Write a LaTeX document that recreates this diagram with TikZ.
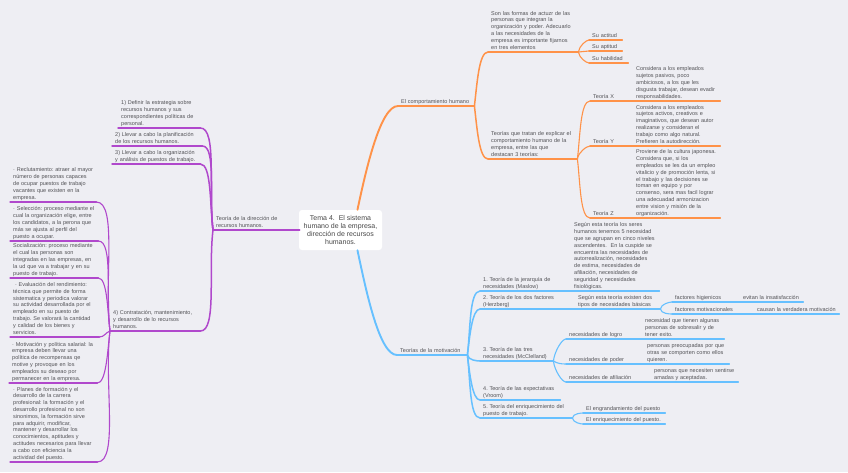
\documentclass[tikz,border=0pt]{standalone}
\usepackage{fontspec}
\setmainfont{Liberation Sans}
\usepackage{tikz}
\usetikzlibrary{calc}
\frenchspacing
\definecolor{mmPurple}{RGB}{176,72,204}
\definecolor{mmOrange}{RGB}{255,146,72}
\definecolor{mmBlue}{RGB}{102,192,255}
\definecolor{mmBg}{RGB}{238,238,243}
\definecolor{mmGray}{RGB}{82,82,86}
\newcommand{\mmfont}{\fontsize{5.5}{6.8}\selectfont}
\tikzset{
  tema/.style={
    rectangle, rounded corners=3pt,
    fill=white, draw=none,
    minimum width=83pt, minimum height=40pt,
    align=center, font=\fontsize{7}{8.3}\selectfont,
    text=black!72
  },
  idea/.style={
    anchor=south west, inner xsep=0pt, inner ysep=0.6pt,
    text width=#1, align=left,
    font=\mmfont, text=mmGray,
    execute at begin node={\leftskip=3pt\rightskip=0pt plus 1fil minus 40pt},
    execute at end node={\strut}
  },
  lvone/.style={draw=#1, line width=1.9pt, line cap=round},
  lvtwo/.style={draw=#1, line width=1.5pt, line cap=round},
  lvthree/.style={draw=#1, line width=1.1pt, line cap=round},
  lup/.style={out=97, in=0, in looseness=0.42},
  ldown/.style={out=-97, in=0, in looseness=0.42},
  rup/.style={out=83, in=180, in looseness=0.42},
  rdown/.style={out=-83, in=180, in looseness=0.42},
}
\begin{document}
\begin{tikzpicture}[x=1pt,y=-1pt]
  \fill[mmBg] (0,0) rectangle (848,472);
  \useasboundingbox (0,0) rectangle (848,472);

  % Left — dirección de recursos humanos
  \node[idea=86] (dir) at (213,230) {Teoría de la dirección de\\recursos humanos.};
  \node[idea=82] (d1) at (118,128) {1) Definir la estrategia sobre\\recursos humanos y sus\\correspondientes políticas de\\personal.};
  \node[idea=90] (d2) at (112,146) {2) Llevar a cabo la planificación\\de los recursos humanos.};
  \node[idea=88] (d3) at (112,164) {3) Llevar a cabo la organización\\y análisis de puestos de trabajo.};
  \node[idea=90] (d4) at (110,331) {4) Contratación, mantenimiento,\\y desarrollo de lo recursos\\humanos.};
  \node[idea=86] (e1) at (10,202) {· Reclutamiento: atraer al mayor\\número de personas capaces\\de ocupar puestos de trabajo\\vacantes que existen en la\\empresa.};
  \node[idea=88] (e2) at (10,241) {· Selección: proceso mediante el\\cual la organización elige, entre\\los candidatos, a la perona que\\más se ajusta al perfil del\\puesto a ocupar.};
  \node[idea=88] (e3) at (10,278) {Socialización: proceso mediante\\el cual las personas son\\integradas en las empresas, en\\la ud que va a trabajar y en su\\puesto de trabajo.};
  \node[idea=89] (e4) at (10,337) {\ · Evaluación del rendimiento:\\técnica que permite de forma\\sistematica y periodica valorar\\su actividad desarrollada por el\\empleado en su puesto de\\trabajo. Se valorará la cantidad\\y calidad de los bienes y\\servicios.};
  \node[idea=88] (e5) at (9,383) {· Motivación y política salarial: la\\empresa deben llevar una\\política de recompensas qe\\motive y provoque en los\\empleados su deseao por\\permanecer en la empresa.};
  \node[idea=87] (e6) at (10,462) {· Planes de formación y el\\desarrollo de la carrera\\profesional: la formación y el\\desarrollo profesional no son\\sinonimos, la formación sirve\\para adquirir, modificar,\\mantener y desarrollar los\\conocimientos, aptitudes y\\actitudes necesarios para llevar\\a cabo con eficiencia la\\actividad del puesto.};

  % Right top — comportamiento humano
  \node[idea=76] (comp) at (398,106) {El comportamiento humano};
  \node[idea=90] (o1) at (488,52) {Son las formas de actuzr de las\\personas que integran la\\organización y poder. Adecuarlo\\a las necesidades de la\\empresa es importante fijarnos\\en tres elementos};
  \node[idea=89] (o2) at (488,159) {Teorías que tratan de explicar el\\comportamiento humano de la\\empresa, entre las que\\destacan 3 teorías:};
  \node[idea=33] (sa) at (589,40) {Su actitud};
  \node[idea=33] (sp) at (589,51) {Su aptitud};
  \node[idea=39] (sh) at (589,63) {Su habilidad};
  \node[idea=43] (tx) at (590,101) {Teoría X};
  \node[idea=87] (txd) at (633,101) {Considera a los empleados\\sujetos pasivos, poco\\ambiciosos, a los que les\\disgusta trabajar, desean evadir\\responsabilidades.};
  \node[idea=43] (ty) at (590,146) {Teoría Y};
  \node[idea=87] (tyd) at (633,146) {Considera a los empleados\\sujetos activos, creativos e\\imaginativos, que desean autor\\realizarse y consideran el\\trabajo como algo natural.\\Prefieren la autodirección.};
  \node[idea=43] (tz) at (590,218) {Teoría Z};
  \node[idea=87] (tzd) at (633,218) {Proviene de la cultura japonesa.\\Considera que, si los\\empleados se les da un empleo\\vitalicio y de promoción lenta, si\\el trabajo y las decisiones se\\toman en equipo y por\\consenso, sera mas facil lograr\\una adecuadad armonizacion\\entre vision y misión de la\\organización.};

  % Right bottom — motivación
  \node[idea=70] (mot) at (397,355) {Teorías de la motivación};
  \node[idea=91] (b1) at (480,291) {1. Teoría de la jerarquía de\\necesidades (Maslow)};
  \node[idea=88] (b1d) at (571,291) {Según esta teoría los seres\\humanos tenemos 5 necesidad\\que se agrupan en cinco niveles\\ascendentes.\ \ En la cuspide se\\encuentra las necesidades de\\autorrealización, necesidades\\de estima, necesidades de\\afiliación, necesidades de\\seguridad y necesidades\\fisiológicas.};
  \node[idea=95] (b2) at (480,309) {2. Teoría de los dos factores\\(Herzberg)};
  \node[idea=85] (b2d) at (575,309) {Según esta teoría existen dos\\tipos de necesidades básicas};
  \node[idea=68] (f1) at (672,302) {factores higienicos};
  \node[idea=63] (f1d) at (740,302) {evitan la insatisfacción};
  \node[idea=82] (f2) at (672,314) {factores motivacionales};
  \node[idea=85] (f2d) at (754,314) {causan la verdadera motivación};
  \node[idea=73] (b3) at (480,361) {3. Teoría de las tres\\necesidades (McClelland)};
  \node[idea=76] (n1) at (566,339) {necesidades de logro};
  \node[idea=82] (n1d) at (642,339) {necesidad que tienen algunas\\personas de sobresalir y de\\tener exito.};
  \node[idea=78] (n2) at (566,364) {necesidades de poder};
  \node[idea=85] (n2d) at (644,364) {personas preocupadas por que\\otras se comporten como ellos\\quieren.};
  \node[idea=85] (n3) at (566,382) {necesidades de afiliación};
  \node[idea=87] (n3d) at (651,382) {personas que necesiten sentirse\\amadas y aceptadas.};
  \node[idea=80] (b4) at (480,400) {4. Teoría de las expectativas\\(Vroom)};
  \node[idea=92] (b5) at (480,418) {5. Teoría del enriquecimiento del\\puesto de trabajo.};
  \node[idea=82] (g1) at (583,413) {El engrandamiento del puesto};
  \node[idea=82] (g2) at (583,424) {El enriquecimiento del puesto.};

  % Centre
  \node[tema] (tema) at (340.5,230) {Tema 4.\ \ El sistema\\humano de la empresa,\\dirección de recursos\\humanos.};

  % Underlines
  \draw[lvone=mmPurple] (dir.south west) -- (dir.south east);
  \draw[lvone=mmOrange] (comp.south west) -- (comp.south east);
  \draw[lvone=mmBlue]   (mot.south west) -- (mot.south east);
  \foreach \n in {d1,d2,d3,d4}
    \draw[lvtwo=mmPurple] (\n.south west) -- (\n.south east);
  \foreach \n in {e1,e2,e3,e4,e5,e6}
    \draw[lvthree=mmPurple] (\n.south west) -- (\n.south east);
  \foreach \n in {o1,o2}
    \draw[lvtwo=mmOrange] (\n.south west) -- (\n.south east);
  \foreach \n in {sa,sp,sh,tx,txd,ty,tyd,tz,tzd}
    \draw[lvthree=mmOrange] (\n.south west) -- (\n.south east);
  \foreach \n in {b1,b1d,b2,b2d,b3,b4,b5}
    \draw[lvtwo=mmBlue] (\n.south west) -- (\n.south east);
  \foreach \n in {f1,f1d,f2,f2d,n1,n1d,n2,n2d,n3,n3d,g1,g2}
    \draw[lvthree=mmBlue] (\n.south west) -- (\n.south east);

  % Connectors
  \draw[lvone=mmPurple] (tema.west) -- (dir.south east);
  \draw[lvone=mmOrange] (tema.50) to[out=78, in=180, in looseness=0.4] (comp.south west);
  \draw[lvone=mmBlue]   (tema.-50) to[out=-78, in=180, in looseness=0.4] (mot.south west);

  \draw[lvtwo=mmPurple] (dir.south west) to[lup] (d1.south east);
  \draw[lvtwo=mmPurple] (dir.south west) to[lup] (d2.south east);
  \draw[lvtwo=mmPurple] (dir.south west) to[lup] (d3.south east);
  \draw[lvtwo=mmPurple] (dir.south west) to[ldown] (d4.south east);
  \draw[lvthree=mmPurple] (d4.south west) to[lup] (e1.south east);
  \draw[lvthree=mmPurple] (d4.south west) to[lup] (e2.south east);
  \draw[lvthree=mmPurple] (d4.south west) to[lup] (e3.south east);
  \draw[lvthree=mmPurple] (d4.south west) to[out=-160, in=0] (e4.south east);
  \draw[lvthree=mmPurple] (d4.south west) to[ldown] (e5.south east);
  \draw[lvthree=mmPurple] (d4.south west) to[ldown] (e6.south east);

  \draw[lvtwo=mmOrange] (comp.south east) to[rup] (o1.south west);
  \draw[lvtwo=mmOrange] (comp.south east) to[rdown] (o2.south west);
  \draw[lvthree=mmOrange] (o1.south east) to[rup] (sa.south west);
  \draw[lvthree=mmOrange] (o1.south east) -- (sp.south west);
  \draw[lvthree=mmOrange] (o1.south east) to[rdown] (sh.south west);
  \draw[lvthree=mmOrange] (o2.south east) to[rup] (tx.south west);
  \draw[lvthree=mmOrange] (o2.south east) to[rup] (ty.south west);
  \draw[lvthree=mmOrange] (o2.south east) to[rdown] (tz.south west);

  \draw[lvtwo=mmBlue] (mot.south east) to[rup] (b1.south west);
  \draw[lvtwo=mmBlue] (mot.south east) to[rup] (b2.south west);
  \draw[lvtwo=mmBlue] (mot.south east) to[rdown] (b3.south west);
  \draw[lvtwo=mmBlue] (mot.south east) to[rdown] (b4.south west);
  \draw[lvtwo=mmBlue] (mot.south east) to[rdown] (b5.south west);
  \draw[lvthree=mmBlue] (b2d.south east) to[rup] (f1.south west);
  \draw[lvthree=mmBlue] (b2d.south east) to[rdown] (f2.south west);
  \draw[lvthree=mmBlue] (b3.south east) to[rup] (n1.south west);
  \draw[lvthree=mmBlue] (b3.south east) to[out=-30, in=180] (n2.south west);
  \draw[lvthree=mmBlue] (b3.south east) to[rdown] (n3.south west);
  \draw[lvthree=mmBlue] (b5.south east) to[rup] (g1.south west);
  \draw[lvthree=mmBlue] (b5.south east) to[rdown] (g2.south west);
\end{tikzpicture}
\end{document}
